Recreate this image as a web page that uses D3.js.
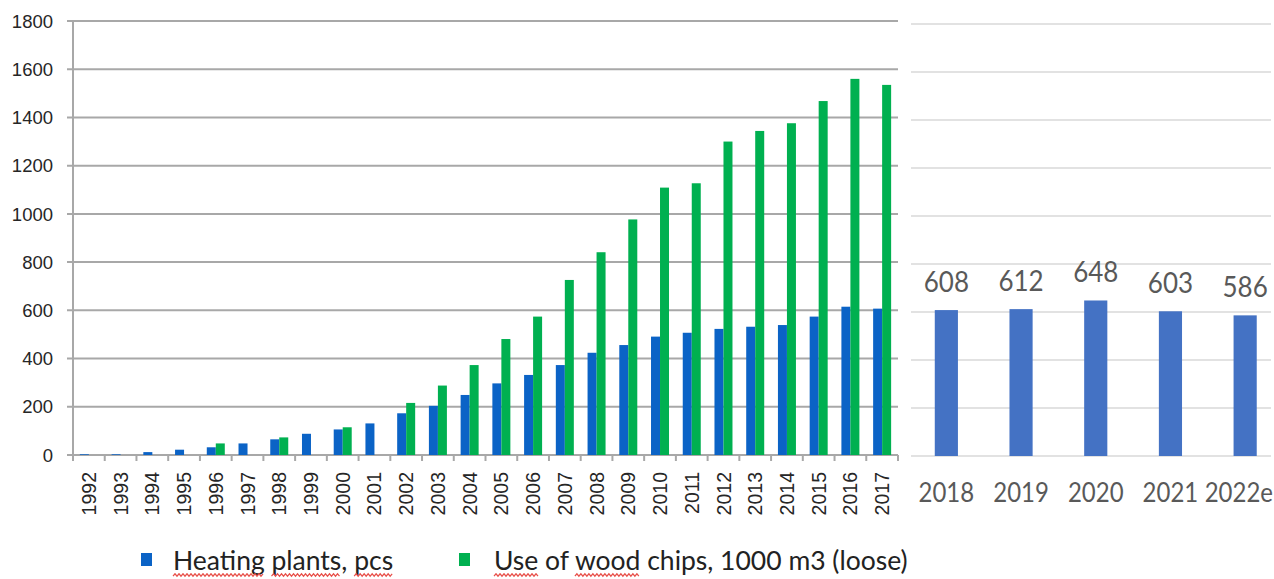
<!DOCTYPE html>
<html>
<head>
<meta charset="utf-8">
<script src="https://cdn.jsdelivr.net/npm/d3@7"></script>
<style>
  body { margin: 0; background: #fff; }
  svg { display: block; }
</style>
</head>
<body>
<div id="graph"></div>
<script>
// left chart: 1992-2017, two series
const years = ["1992","1993","1994","1995","1996","1997","1998","1999","2000","2001","2002","2003","2004",
  "2005","2006","2007","2008","2009","2010","2011","2012","2013","2014","2015","2016","2017"];
const heatingPlants = [3,3,12,22,32,48,65,88,106,131,173,204,249,297,332,373,424,456,491,507,523,532,539,574,615,607];
const woodChips = [null,null,null,null,48,null,73,null,115,null,216,288,373,481,574,726,841,977,1109,1127,1300,1344,1376,1468,1560,1535];
const leftTicks = [0,200,400,600,800,1000,1200,1400,1600,1800];

// right chart: 2018-2022e heating plants
const recentYears = ["2018","2019","2020","2021","2022e"];
const recentPlants = [608,612,648,603,586];

const legendLabels = ["Heating plants, pcs", "Use of wood chips, 1000 m3 (loose)"];

const width = 1274, height = 579;
const blue = "#0b63c6", green = "#00b050", blueRight = "#4472c4";

const svg = d3.select("#graph").append("svg")
  .attr("width", width).attr("height", height)
  .style("background", "white");

// ---------- left chart ----------
const x = d3.scaleBand().domain(years).range([73, 898]);
const y = d3.scaleLinear().domain([0, 1800]).range([455, 21]);
const barW = 9;

// gridlines
svg.append("g")
  .selectAll("line").data(leftTicks)
  .enter().append("line")
  .attr("x1", 67).attr("x2", 898)
  .attr("y1", d => y(d)).attr("y2", d => y(d))
  .attr("stroke", "#a8a8a8").attr("stroke-width", 2);

// y axis line
svg.append("line")
  .attr("x1", 73).attr("x2", 73)
  .attr("y1", y(1800)).attr("y2", 461)
  .attr("stroke", "#a8a8a8").attr("stroke-width", 2);

// y tick labels
svg.append("g").selectAll("text").data(leftTicks)
  .enter().append("text")
  .attr("x", 53).attr("y", d => y(d))
  .attr("dy", "0.36em")
  .style("text-anchor", "end")
  .style("font-family", "'Liberation Sans', Arial, sans-serif")
  .style("font-size", "18.5px")
  .style("fill", "#262626")
  .text(d => d);

// bottom ticks at band boundaries
svg.append("g").selectAll("line").data(d3.range(years.length + 1))
  .enter().append("line")
  .attr("x1", i => 73 + i * x.step()).attr("x2", i => 73 + i * x.step())
  .attr("y1", y(0)).attr("y2", y(0) + 6)
  .attr("stroke", "#a8a8a8").attr("stroke-width", 2);

// bars
svg.append("g").selectAll("rect").data(years)
  .enter().append("rect")
  .attr("x", (d) => x(d) + x.bandwidth() / 2 - barW)
  .attr("y", (d, i) => y(heatingPlants[i]))
  .attr("width", barW)
  .attr("height", (d, i) => y(0) - y(heatingPlants[i]))
  .style("fill", blue);

svg.append("g").selectAll("rect").data(years.filter((d, i) => woodChips[i] != null))
  .enter().append("rect")
  .attr("x", (d) => x(d) + x.bandwidth() / 2)
  .attr("y", (d) => y(woodChips[years.indexOf(d)]))
  .attr("width", barW)
  .attr("height", (d) => y(0) - y(woodChips[years.indexOf(d)]))
  .style("fill", green);

// year labels
svg.append("g").selectAll("text").data(years)
  .enter().append("text")
  .attr("transform", d => `translate(${x(d) + x.bandwidth() / 2},${y(0) + 17}) rotate(-90)`)
  .attr("dy", "0.36em")
  .style("text-anchor", "end")
  .style("font-family", "'Liberation Sans', Arial, sans-serif")
  .style("font-size", "19.5px")
  .style("fill", "#262626")
  .text(d => d);

// ---------- right chart ----------
const xr = d3.scaleBand().domain(recentYears).range([909, 1282.5])
  .paddingInner(0.69).paddingOuter(0.345);
const yr = d3.scaleLinear().domain([0, 1800]).range([456, 24]);

svg.append("g").selectAll("line").data(leftTicks)
  .enter().append("line")
  .attr("x1", 911).attr("x2", 1271)
  .attr("y1", d => yr(d)).attr("y2", d => yr(d))
  .attr("stroke", "#d9d9d9").attr("stroke-width", 1.5);

svg.append("g").selectAll("rect").data(recentYears)
  .enter().append("rect")
  .attr("x", d => xr(d))
  .attr("y", (d, i) => yr(recentPlants[i]))
  .attr("width", xr.bandwidth())
  .attr("height", (d, i) => yr(0) - yr(recentPlants[i]))
  .style("fill", blueRight);

const calibri = "Lato, 'Open Sans', sans-serif";

// value labels
svg.append("g").selectAll("text").data(recentYears)
  .enter().append("text")
  .attr("transform", (d, i) => `translate(${xr(d) + xr.bandwidth() / 2},${yr(recentPlants[i]) - 18}) scale(1,1.12)`)
  .style("text-anchor", "middle")
  .style("font-family", calibri)
  .style("font-size", "26px")
  .style("fill", "#595959")
  .text((d, i) => recentPlants[i]);

// category labels, kept inside the right edge
const catLabels = svg.append("g").selectAll("text").data(recentYears)
  .enter().append("text")
  .style("text-anchor", "middle")
  .style("font-family", calibri)
  .style("font-size", "24px")
  .style("fill", "#595959")
  .text(d => d);
catLabels.attr("transform", function(d) {
  const w = this.getComputedTextLength();
  const cx = Math.min(xr(d) + xr.bandwidth() / 2, 1273 - w / 2);
  return `translate(${cx},502) scale(1,1.12)`;
});

// ---------- legend ----------
const legendItems = [
  {sq: 141, tx: 173, color: blue, words: [[0, 7], [8, 14], [16, 19]]},
  {sq: 459, tx: 494, color: green, words: [[0, 3], [7, 11]]}
];

const legend = svg.append("g");
legendItems.forEach((item, k) => {
  legend.append("rect")
    .attr("x", item.sq).attr("y", 553)
    .attr("width", 11).attr("height", 13)
    .style("fill", item.color);

  const t = legend.append("text")
    .attr("transform", `translate(${item.tx},570)`)
    .style("font-family", calibri)
    .style("font-size", "26.5px")
    .style("fill", "#222")
    .text(legendLabels[k]);

  // spell-check squiggles under some words
  const node = t.node();
  item.words.forEach(([a, b]) => {
    const x0 = item.tx + node.getSubStringLength(0, a);
    const x1 = item.tx + node.getSubStringLength(0, b);
    const pts = d3.range(x0, x1, 2).map((px, j) => [px, 575 + (j % 2 ? -1.2 : 1.2)]);
    legend.append("path")
      .attr("d", d3.line()(pts))
      .attr("fill", "none")
      .attr("stroke", "#e8504a")
      .attr("stroke-width", 1.2);
  });
});
</script>
</body>
</html>
